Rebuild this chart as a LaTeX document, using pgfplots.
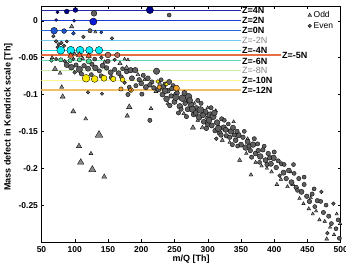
\documentclass[border=0pt]{standalone}
\usepackage{fontspec}
\setmainfont{Liberation Sans}
\usepackage{pgfplots}
\usepackage{pgfplotstable}
\pgfplotsset{compat=1.18}

% Kendrick-series colours (jet-like)
\definecolor{cFourN}{RGB}{40,40,170}
\definecolor{cTwoN}{RGB}{30,60,210}
\definecolor{cZeroN}{RGB}{40,105,220}
\definecolor{cMTwoN}{RGB}{115,200,240}
\definecolor{cMFourN}{RGB}{30,215,225}
\definecolor{cMFiveN}{RGB}{232,110,70}
\definecolor{cMSixN}{RGB}{95,220,175}
\definecolor{cMEightN}{RGB}{200,240,170}
\definecolor{cMTenN}{RGB}{250,245,140}
\definecolor{cMTwelveN}{RGB}{240,190,100}
\definecolor{mNavy}{RGB}{0,0,140}
\definecolor{mBlue}{RGB}{10,25,215}
\definecolor{mMid}{RGB}{30,85,210}
\definecolor{mCyan}{RGB}{0,235,245}
\definecolor{mOrange}{RGB}{235,95,40}
\definecolor{mBrown}{RGB}{175,105,85}
\definecolor{mGreen}{RGB}{80,210,150}
\definecolor{mYellow}{RGB}{250,232,0}
\definecolor{mAmber}{RGB}{240,160,40}
\definecolor{evenfill}{RGB}{95,95,95}
\definecolor{oddfill}{RGB}{135,135,135}
\definecolor{lblgray}{RGB}{130,130,130}

% even-charge ions: m/Q, mass defect, marker size
\pgfplotstableread{
x y s
129 0.010 2.0
242 0.0077 1.4
113 -0.022 1.3
156 -0.024 1.2
123 -0.0135 1.5
68 -0.021 1.2
72 -0.028 1.3
76 -0.032 1.2
80 -0.030 1.3
84 -0.034 1.2
88 -0.028 1.1
74 -0.036 1.1
72 -0.052 1.2
85 -0.055 1.3
98 -0.052 1.2
130 -0.052 1.4
140 -0.050 1.3
150 -0.055 1.5
160 -0.053 1.2
88 -0.060 1.8
95 -0.063 2.0
102 -0.060 1.5
107 -0.066 2.2
114 -0.061 1.6
120 -0.065 1.8
126 -0.059 1.5
131 -0.064 2.0
137 -0.068 1.5
142 -0.061 1.8
148 -0.064 1.6
154 -0.070 1.8
160 -0.066 1.5
166 -0.071 1.7
172 -0.065 1.4
178 -0.069 1.6
184 -0.067 1.9
191 -0.067 1.9
100 -0.070 1.3
110 -0.072 1.5
125 -0.073 1.4
140 -0.075 1.6
155 -0.077 1.5
170 -0.076 1.4
186 -0.078 1.8
197 -0.080 1.6
203 -0.074 1.5
210 -0.078 1.7
216 -0.083 1.5
223 -0.0685 2.2
230 -0.080 1.4
236 -0.086 1.6
242 -0.083 1.8
248 -0.088 1.5
192 -0.088 1.5
200 -0.085 1.7
207 -0.090 1.8
213 -0.087 1.6
219 -0.091 1.6
226 -0.093 1.8
233 -0.090 1.7
240 -0.095 1.7
246 -0.092 1.6
180 -0.100 1.5
201 -0.0995 1.5
213 -0.135 1.5
120 -0.097 1.2
141 -0.099 1.2
175 -0.084 1.3
182 -0.090 1.4
232 -0.100 1.8
238 -0.106 2.0
245 -0.102 1.6
250 -0.110 1.8
254 -0.098 1.6
258 -0.116 2.0
262 -0.105 2.4
266 -0.112 1.6
270 -0.120 1.8
271 -0.103 2.4
275 -0.114 2.0
279 -0.127 1.8
283 -0.118 1.6
287 -0.131 2.0
290 -0.112 1.5
294 -0.137 1.7
296 -0.124 2.2
300 -0.140 1.8
304 -0.128 2.4
308 -0.130 2.2
311 -0.149 1.6
314 -0.138 2.0
318 -0.152 1.8
321 -0.133 1.5
324 -0.145 2.0
328 -0.156 1.6
331 -0.140 1.4
335 -0.150 2.0
338 -0.145 1.8
342 -0.162 1.7
346 -0.155 2.0
350 -0.168 1.8
353 -0.158 1.6
357 -0.172 2.0
360 -0.164 1.8
364 -0.176 1.6
368 -0.168 2.0
372 -0.180 1.7
375 -0.167 1.5
379 -0.184 2.0
383 -0.175 1.6
387 -0.189 1.8
391 -0.180 1.6
395 -0.194 1.8
399 -0.186 2.0
403 -0.199 1.6
406 -0.190 1.5
411 -0.194 1.5
414 -0.206 1.8
418 -0.214 1.6
422 -0.203 1.7
426 -0.219 1.8
429 -0.195 1.4
433 -0.226 1.6
437 -0.214 1.5
441 -0.232 1.8
445 -0.222 1.5
449 -0.238 1.6
453 -0.245 1.6
457 -0.235 1.5
461 -0.252 1.4
465 -0.244 1.6
471 -0.232 1.3
474 -0.260 1.5
478 -0.250 1.4
482 -0.265 1.5
486 -0.275 1.4
489 -0.248 1.3
493 -0.282 1.4
496 -0.270 1.4
498 -0.295 1.4
480 -0.288 1.3
260 -0.120 1.5
285 -0.108 1.5
305 -0.118 1.5
325 -0.135 1.4
340 -0.155 1.5
355 -0.150 1.4
370 -0.160 1.5
385 -0.170 1.4
400 -0.178 1.5
415 -0.195 1.4
430 -0.207 1.4
445 -0.212 1.4
460 -0.228 1.4
470 -0.245 1.4
313 -0.160 1.3
345 -0.170 1.4
378 -0.192 1.4
408 -0.210 1.3
435 -0.230 1.4
236 -0.095 2.0
243 -0.115 1.6
252 -0.104 2.2
256 -0.125 1.5
265 -0.098 1.8
268 -0.130 1.5
273 -0.108 2.0
277 -0.120 2.2
282 -0.125 1.8
289 -0.121 2.4
293 -0.128 1.8
298 -0.146 1.6
302 -0.135 2.0
306 -0.142 1.8
310 -0.125 2.0
316 -0.146 2.2
320 -0.155 1.6
327 -0.148 1.8
333 -0.158 1.6
337 -0.168 1.5
344 -0.150 1.6
362 -0.170 1.5
366 -0.185 1.5
376 -0.176 1.6
389 -0.195 1.5
393 -0.186 1.5
}\evenpts

% odd-charge ions
\pgfplotstableread{
x y s
70.3 -0.0653 1.8
80.4 -0.090 1.5
81.9 -0.103 1.8
97.8 -0.123 1.8
116.5 -0.133 1.4
136.5 -0.155 2.8
106.4 -0.170 1.9
109 -0.192 2.3
124.4 -0.180 1.4
126.4 -0.202 2.6
144.4 -0.2116 1.8
182 -0.117 2.0
179 -0.129 1.6
214.7 -0.119 1.4
277.8 -0.145 1.8
95.4 -0.008 1.6
131 -0.0153 1.2
66 -0.050 1.3
112 -0.051 1.3
175 -0.052 1.2
180 -0.053 1.2
78 -0.071 1.4
100 -0.045 1.3
145 -0.056 1.4
168 -0.058 1.6
178 -0.064 1.8
195 -0.073 1.4
205 -0.080 1.3
222 -0.096 1.4
228 -0.085 1.3
250 -0.100 1.3
264 -0.126 1.4
285 -0.135 1.3
240 -0.112 1.3
268 -0.110 1.3
292 -0.145 1.6
298 -0.132 1.2
316 -0.142 1.2
322 -0.162 1.5
333 -0.165 1.3
339 -0.137 1.3
348 -0.189 1.5
358 -0.180 1.3
365 -0.209 1.4
372 -0.192 1.3
381 -0.197 1.3
389 -0.200 1.2
396 -0.205 1.4
404 -0.222 1.4
410 -0.215 1.3
420 -0.225 1.3
428 -0.222 1.5
438 -0.241 1.3
444 -0.248 1.2
452 -0.255 1.3
458 -0.262 1.2
463 -0.258 1.2
468 -0.270 1.3
476 -0.272 1.3
479 -0.296 1.4
484 -0.280 1.2
490 -0.290 1.2
494 -0.262 1.2
499 -0.275 1.3
360 -0.160 1.3
312 -0.122 1.3
280 -0.112 1.2
300 -0.118 1.3
330 -0.148 1.2
395 -0.185 1.2
425 -0.205 1.2
455 -0.240 1.2
}\oddpts

% markers: #1 scales the size column s, #2 is the fill colour
\pgfplotsset{
  sized/.style n args={2}{scatter, only marks, forget plot,
    scatter/use mapped color={draw=black, fill=#2},
    visualization depends on={#1*\thisrow{s}\as\msize},
    scatter/@pre marker code/.append style={/tikz/mark size=\msize}},
  series/.style={no marks, line width=#1, forget plot},
}
\tikzset{zlab/.style={anchor=west, inner sep=1pt, font=\fontsize{9}{10}\selectfont\bfseries}}

\begin{document}
\begin{tikzpicture}
\begin{axis}[
  scale only axis, width=299.2pt, height=236pt,
  xmin=50, xmax=500, ymin=-0.3, ymax=0.02,
  xtick={50,100,150,200,250,300,350,400,450,500},
  xticklabels={50,100,150,200,250,300,350,400,450,500},
  ytick={-0.25,-0.2,-0.15,-0.1,-0.05,0},
  yticklabels={-0.25,-0.2,-0.15,-0.1,-0.05,0},
  tick align=inside, major tick length=3pt,
  tick style={black, line width=0.4pt},
  axis line style={line width=0.6pt},
  ticklabel style={font=\fontsize{8.5}{10}\selectfont\bfseries},
  xticklabel style={yshift=-1pt},
  xlabel={m/Q [Th]},
  ylabel={Mass defect in Kendrick scale [Th]},
  label style={font=\fontsize{9}{10}\selectfont\bfseries},
  xlabel style={at={(axis description cs:0.5,-0.074)}, anchor=center},
  ylabel style={at={(axis description cs:-0.111,0.53)}, anchor=center},
  legend style={draw=none, fill=none, at={(rel axis cs:0.985,0.99)}, anchor=north east,
    font=\fontsize{8.5}{10}\selectfont, row sep=-1pt, inner sep=1pt},
  legend cell align=left,
  clip mode=individual,
]
% homologous series in Kendrick scale
\addplot[series=0.8pt, color=cFourN] coordinates {(50,0.0135) (350,0.0135)};
\addplot[series=0.8pt, color=cTwoN] coordinates {(50,0) (350,0)};
\addplot[series=0.8pt, color=cZeroN] coordinates {(50,-0.0135) (350,-0.0135)};
\addplot[series=0.9pt, color=cMTwoN] coordinates {(50,-0.027) (350,-0.027)};
\addplot[series=1.1pt, color=cMFourN] coordinates {(50,-0.0405) (350,-0.0405)};
\addplot[series=1.1pt, color=cMSixN] coordinates {(50,-0.054) (350,-0.054)};
\addplot[series=1pt, color=cMEightN] coordinates {(50,-0.0675) (350,-0.0675)};
\addplot[series=1.6pt, color=cMTenN] coordinates {(50,-0.081) (350,-0.081)};
\addplot[series=1.6pt, color=cMTwelveN] coordinates {(50,-0.0942) (350,-0.0942)};
\addplot[series=1.2pt, color=cMFiveN] coordinates {(50,-0.0465) (410,-0.0465)};

% all ions
\addplot[sized={1.6}{oddfill}, mark=triangle*, line width=0.35pt]
  table[x=x, y=y] {\oddpts};
\addplot[sized={1.45}{evenfill}, mark=*, line width=0.35pt]
  table[x=x, y=y] {\evenpts};

% ions assigned to a series
\addplot[sized={1.2}{mNavy}, mark=*, line width=0.35pt]
  table[row sep=\\] {x y s\\ 74 0.0115 1.4\\ 88 0.0125 2.0\\ 101 0.0145 2.0\\ 213 0.0145 3.0\\};
\addplot[sized={1.2}{mBlue}, mark=*, line width=0.35pt]
  table[row sep=\\] {x y s\\ 72 0.001 1.2\\ 99 0.000 1.3\\ 128 -0.0012 3.0\\};
\addplot[sized={1.2}{mMid}, mark=*, line width=0.35pt]
  table[row sep=\\] {x y s\\ 69 -0.0135 2.8\\ 84 -0.014 2.0\\ 98 -0.017 1.6\\ 140 -0.0157 1.3\\};
\addplot[sized={1.2}{mCyan}, mark=*, line width=0.35pt]
  table[row sep=\\] {x y s\\ 79 -0.040 3.3\\ 94 -0.040 3.3\\ 108 -0.040 3.3\\ 122 -0.040 3.1\\ 136.5 -0.040 3.1\\};
\addplot[sized={1.2}{mBrown}, mark=*, line width=0.35pt]
  table[row sep=\\] {x y s\\ 150 -0.0465 2.4\\ 164 -0.0465 2.2\\};
\addplot[sized={1.3}{mOrange}, mark=triangle*, line width=0.35pt]
  table[row sep=\\] {x y s\\ 94 -0.0475 2.6\\ 107 -0.0465 2.6\\ 121 -0.0475 2.4\\};
\addplot[sized={1.2}{mGreen}, mark=*, line width=0.35pt]
  table[row sep=\\] {x y s\\ 65 -0.054 1.5\\ 79 -0.053 1.8\\ 93 -0.054 1.8\\ 107 -0.053 1.8\\ 121 -0.055 2.2\\};
\addplot[sized={1.2}{mYellow}, mark=*, line width=0.35pt]
  table[row sep=\\] {x y s\\ 117 -0.078 3.2\\ 130 -0.079 2.8\\ 144 -0.078 2.5\\ 158 -0.079 2.2\\ 172 -0.080 2.0\\ 225 -0.0824 1.6\\ 238 -0.086 1.6\\};
\addplot[sized={1.2}{mAmber}, mark=*, line width=0.35pt]
  table[row sep=\\] {x y s\\ 169.5 -0.0925 1.8\\ 184.6 -0.094 2.0\\ 227 -0.090 1.8\\ 253 -0.0914 2.5\\ 183 -0.0936 1.5\\};

\addlegendimage{only marks, mark=triangle*, mark size=2.2pt, draw=black, fill=oddfill, line width=0.35pt}
\addlegendentry{Odd}
\addlegendimage{only marks, mark=*, mark size=1.8pt, draw=black, fill=evenfill, line width=0.35pt}
\addlegendentry{Even}

% series labels
\node[zlab] at (axis cs:350,0.0135) {Z=4N};
\node[zlab] at (axis cs:350,0) {Z=2N};
\node[zlab] at (axis cs:350,-0.0135) {Z=0N};
\node[zlab, text=lblgray, font=\fontsize{9}{10}\selectfont] at (axis cs:350,-0.027) {Z=-2N};
\node[zlab] at (axis cs:350,-0.0405) {Z=-4N};
\node[zlab] at (axis cs:350,-0.055) {Z=-6N};
\node[zlab, text=lblgray, font=\fontsize{9}{10}\selectfont] at (axis cs:350,-0.0675) {Z=-8N};
\node[zlab] at (axis cs:350,-0.081) {Z=-10N};
\node[zlab] at (axis cs:350,-0.0942) {Z=-12N};
\node[zlab] at (axis cs:410,-0.0465) {Z=-5N};
\end{axis}
\pgfresetboundingbox
\path ([shift={(-41.5pt,-24pt)}]current axis.south west) rectangle ([shift={(5.3pt,6pt)}]current axis.north east);
\end{tikzpicture}
\end{document}
